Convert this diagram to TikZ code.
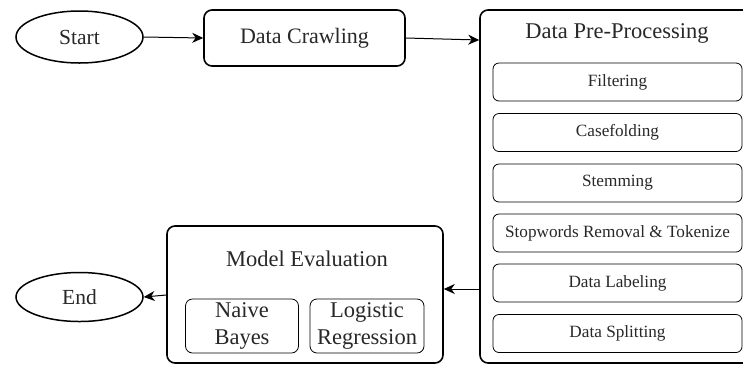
\documentclass[tikz,border=0pt]{standalone}
\usepackage{fontspec}
\setmainfont{Liberation Serif}
\newfontfamily\tnr{Liberation Serif}
\usetikzlibrary{shapes.geometric,arrows.meta}
\definecolor{txt}{RGB}{40,40,40}
\tikzset{
  term/.style={ellipse, draw, line width=1.5pt, minimum width=127pt, minimum height=52pt, inner sep=0pt, font=\tnr\fontsize{21.5}{24}\selectfont, text=txt},
  bigbox/.style={draw, rounded corners=8pt, line width=1.6pt, inner sep=0pt, font=\tnr\fontsize{22}{24}\selectfont, text=txt},
  subbox/.style={draw, rounded corners=6pt, line width=0.8pt, minimum width=249pt, minimum height=38pt, inner sep=0pt, font=\tnr\fontsize{17.2}{20}\selectfont, text=txt},
  modbox/.style={draw, rounded corners=7pt, line width=0.8pt, minimum width=113pt, minimum height=54pt, inner sep=0pt, align=center, font=\tnr\fontsize{22.5}{27}\selectfont, text=txt},
  arr/.style={-{Stealth[length=11pt,width=10pt,inset=3.5pt]}, line width=1pt},
  lbl/.style={inner sep=0pt, text=txt}
}
\begin{document}
\begin{tikzpicture}[x=1pt,y=-1pt]
\clip (0,0) rectangle (743,365);
\fill[white] (0,0) rectangle (743,365);
% Start / End
\node[term] (start) at (79.5,37) {Start};
\node[term, minimum height=49pt] (end) at (79.5,297) {End};
% Data Crawling
\node[bigbox, minimum width=201pt, minimum height=56pt] (dc) at (304.5,38) {Data Crawling};
% Pre-processing container
\node[bigbox, minimum width=290pt, minimum height=353pt] (pp) at (625,186.5) {};
\node[lbl, font=\tnr\fontsize{22.5}{24}\selectfont] (pptitle) at (617,33) {Data Pre-Processing};
\node[subbox] (f1) at (617.5,82) {Filtering};
\node[subbox] (f2) at (617.5,132.5) {Casefolding};
\node[subbox] (f3) at (617.5,183) {Stemming};
\node[subbox] (f4) at (617.5,233) {Stopwords Removal \& Tokenize};
\node[subbox] (f5) at (617.5,283) {Data Labeling};
\node[subbox] (f6) at (617.5,333.5) {Data Splitting};
% Model evaluation
\node[bigbox, minimum width=276pt, minimum height=137pt] (me) at (305,294.5) {};
\node[lbl, font=\tnr\fontsize{22.5}{24}\selectfont] (metitle) at (307,259) {Model Evaluation};
\node[modbox] (nb) at (242,326) {Naive\\Bayes};
\node[modbox, minimum width=114pt] (lr) at (367,326) {Logistic\\Regression};
% connectors
\draw[arr] (start.east) -- (dc.west);
\draw[arr] (dc.east) -- (pp.west |- 0,40);
\coordinate (ppout) at (480,289);
\draw[arr] (ppout) -- (me.east |- ppout);
\draw[arr] (me.west |- 0,295) -- (end.east);
\end{tikzpicture}
\end{document}
